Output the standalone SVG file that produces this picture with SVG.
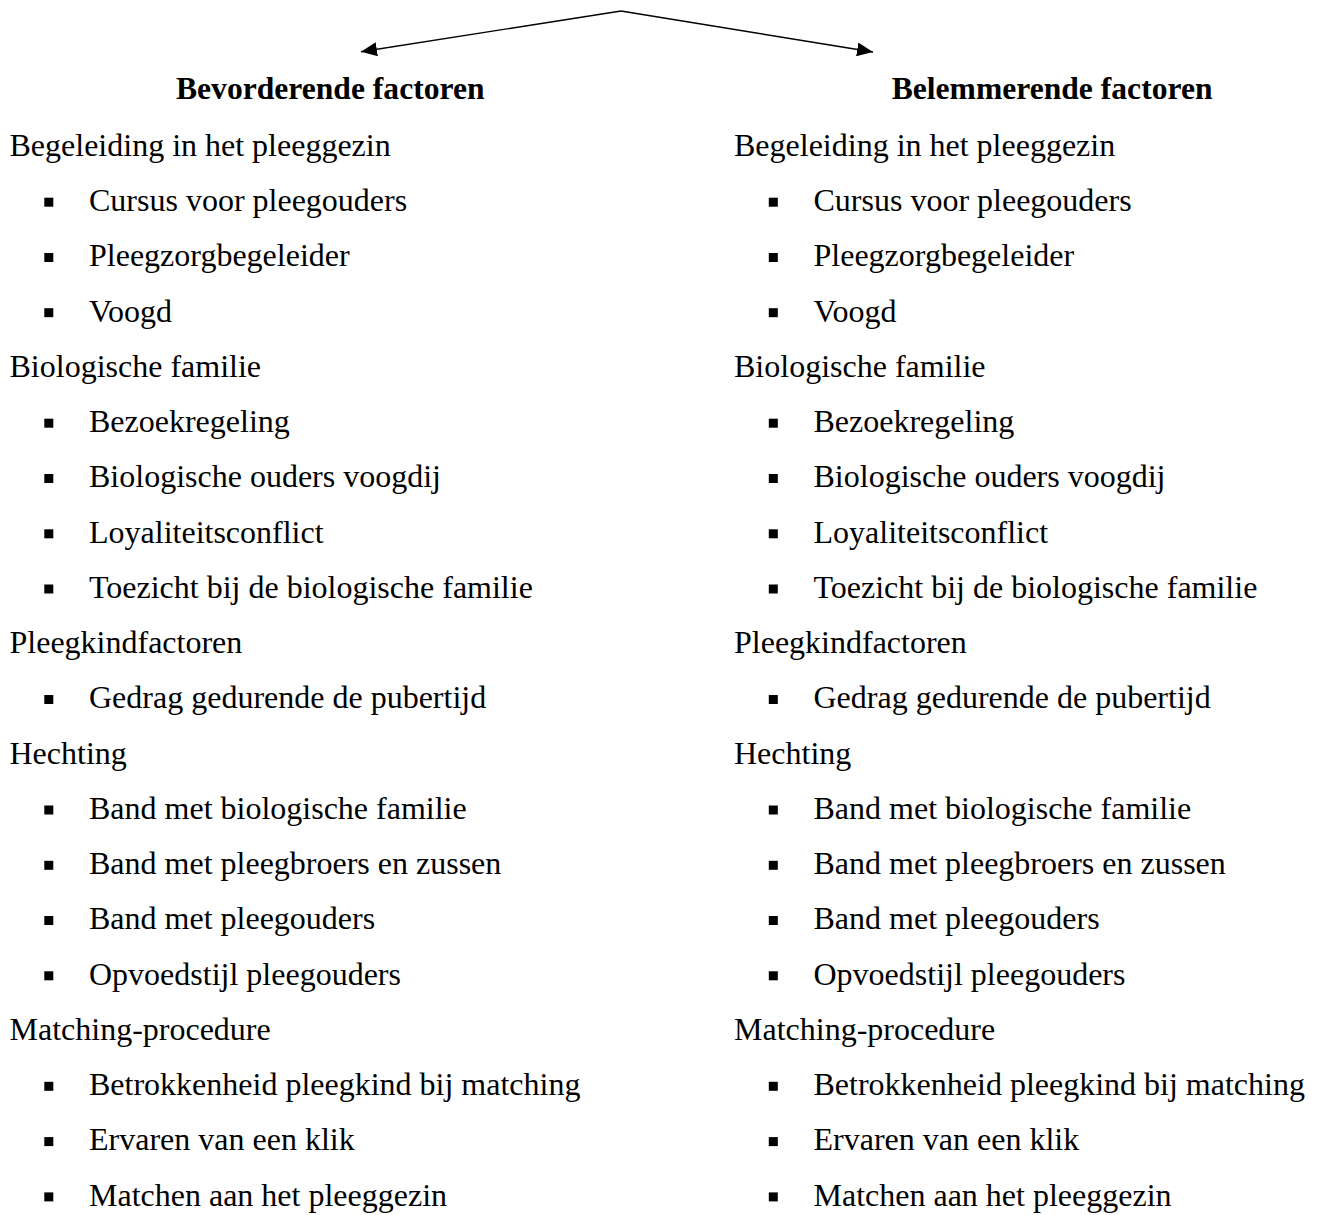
<svg xmlns="http://www.w3.org/2000/svg" width="1321" height="1215" viewBox="0 0 1321 1215">
<style>
text{font-family:"Liberation Serif","Times New Roman",serif;fill:#000}
.h{font-size:31.6px;font-weight:bold}
.t{font-size:32px}
.b{fill:#000}
.c{stroke:#000;stroke-width:1.4;fill:none}
</style>
<defs>
<marker id="arr" viewBox="0 0 16 14" refX="16" refY="7" markerWidth="16" markerHeight="14" orient="auto" markerUnits="userSpaceOnUse">
<path d="M0,0 L16,7 L0,14 Z" fill="#000"/>
</marker>
<rect id="sq" width="9" height="9" class="b"/>
</defs>
<rect width="1321" height="1215" fill="#fff"/>
<g id="connectors">
<path class="c" d="M621,11 L361,51.7" marker-end="url(#arr)"/>
<path class="c" d="M621,11 L873,52" marker-end="url(#arr)"/>
</g>
<g id="node-bevorderend">
<text class="h" x="176" y="99.3">Bevorderende factoren</text>
</g>
<g id="node-belemmerend">
<text class="h" x="1212.5" y="99.3" text-anchor="end">Belemmerende factoren</text>
</g>
<g id="list-left">
<text class="t" x="9.5" y="155.7">Begeleiding in het pleeggezin</text>
<use href="#sq" x="44.3" y="197.7"/><text class="t" x="89" y="211">Cursus voor pleegouders</text>
<use href="#sq" x="44.3" y="253"/><text class="t" x="89" y="266.2">Pleegzorgbegeleider</text>
<use href="#sq" x="44.3" y="308.2"/><text class="t" x="89" y="321.5">Voogd</text>
<text class="t" x="9.5" y="376.7">Biologische familie</text>
<use href="#sq" x="44.3" y="418.7"/><text class="t" x="89" y="432">Bezoekregeling</text>
<use href="#sq" x="44.3" y="474"/><text class="t" x="89" y="487.3">Biologische ouders voogdij</text>
<use href="#sq" x="44.3" y="529.3"/><text class="t" x="89" y="542.5">Loyaliteitsconflict</text>
<use href="#sq" x="44.3" y="584.5"/><text class="t" x="89" y="597.8">Toezicht bij de biologische familie</text>
<text class="t" x="9.5" y="653">Pleegkindfactoren</text>
<use href="#sq" x="44.3" y="695"/><text class="t" x="89" y="708.3">Gedrag gedurende de pubertijd</text>
<text class="t" x="9.5" y="763.6">Hechting</text>
<use href="#sq" x="44.3" y="805.5"/><text class="t" x="89" y="818.8">Band met biologische familie</text>
<use href="#sq" x="44.3" y="860.8"/><text class="t" x="89" y="874.1">Band met pleegbroers en zussen</text>
<use href="#sq" x="44.3" y="916"/><text class="t" x="89" y="929.3">Band met pleegouders</text>
<use href="#sq" x="44.3" y="971.3"/><text class="t" x="89" y="984.6">Opvoedstijl pleegouders</text>
<text class="t" x="9.5" y="1039.9">Matching-procedure</text>
<use href="#sq" x="44.3" y="1081.8"/><text class="t" x="89" y="1095.1">Betrokkenheid pleegkind bij matching</text>
<use href="#sq" x="44.3" y="1137.1"/><text class="t" x="89" y="1150.4">Ervaren van een klik</text>
<use href="#sq" x="44.3" y="1192.4"/><text class="t" x="89" y="1205.7">Matchen aan het pleeggezin</text>
</g>
<g id="list-right">
<text class="t" x="734" y="155.7">Begeleiding in het pleeggezin</text>
<use href="#sq" x="768.8" y="197.7"/><text class="t" x="813.5" y="211">Cursus voor pleegouders</text>
<use href="#sq" x="768.8" y="253"/><text class="t" x="813.5" y="266.2">Pleegzorgbegeleider</text>
<use href="#sq" x="768.8" y="308.2"/><text class="t" x="813.5" y="321.5">Voogd</text>
<text class="t" x="734" y="376.7">Biologische familie</text>
<use href="#sq" x="768.8" y="418.7"/><text class="t" x="813.5" y="432">Bezoekregeling</text>
<use href="#sq" x="768.8" y="474"/><text class="t" x="813.5" y="487.3">Biologische ouders voogdij</text>
<use href="#sq" x="768.8" y="529.3"/><text class="t" x="813.5" y="542.5">Loyaliteitsconflict</text>
<use href="#sq" x="768.8" y="584.5"/><text class="t" x="813.5" y="597.8">Toezicht bij de biologische familie</text>
<text class="t" x="734" y="653">Pleegkindfactoren</text>
<use href="#sq" x="768.8" y="695"/><text class="t" x="813.5" y="708.3">Gedrag gedurende de pubertijd</text>
<text class="t" x="734" y="763.6">Hechting</text>
<use href="#sq" x="768.8" y="805.5"/><text class="t" x="813.5" y="818.8">Band met biologische familie</text>
<use href="#sq" x="768.8" y="860.8"/><text class="t" x="813.5" y="874.1">Band met pleegbroers en zussen</text>
<use href="#sq" x="768.8" y="916"/><text class="t" x="813.5" y="929.3">Band met pleegouders</text>
<use href="#sq" x="768.8" y="971.3"/><text class="t" x="813.5" y="984.6">Opvoedstijl pleegouders</text>
<text class="t" x="734" y="1039.9">Matching-procedure</text>
<use href="#sq" x="768.8" y="1081.8"/><text class="t" x="813.5" y="1095.1">Betrokkenheid pleegkind bij matching</text>
<use href="#sq" x="768.8" y="1137.1"/><text class="t" x="813.5" y="1150.4">Ervaren van een klik</text>
<use href="#sq" x="768.8" y="1192.4"/><text class="t" x="813.5" y="1205.7">Matchen aan het pleeggezin</text>
</g>
</svg>
